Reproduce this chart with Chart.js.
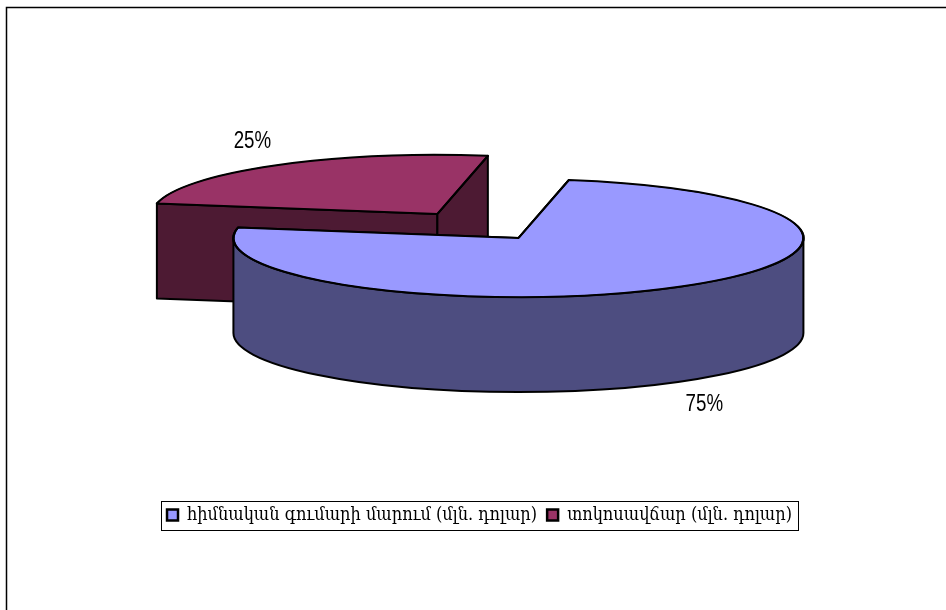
<!DOCTYPE html>
<html><head><meta charset="utf-8">
<style>html,body{margin:0;padding:0;background:#fff}canvas{display:block}</style>
<script src="https://cdn.jsdelivr.net/npm/chart.js@4"></script>
</head><body>
<canvas id="c" width="946" height="610"></canvas>
<script>
const categories = ["հիմնական գումարի մարում (մլն. դոլար)", "տոկոսավճար (մլն. դոլար)"];
const shares = [75, 25];
const topColors = ["#9999FF", "#993366"];
const wallColors = ["#4D4D80", "#4D1A33"];

const view = {cx: 477.9, cy: 226, squash: 0.207, depth: 95, explode: 71, radius: 285};
const LINE = 2;

function apex(el){
  const mid = (el.startAngle + el.endAngle) / 2;
  return {x: view.cx + Math.cos(mid) * view.explode,
          y: view.cy + Math.sin(mid) * view.explode * view.squash, mid};
}
function drawWedge(ctx, el, i){
  const a = apex(el), rx = el.outerRadius, ry = rx * view.squash, d = view.depth;
  const pt = t => ({x: a.x + Math.cos(t) * rx, y: a.y + Math.sin(t) * ry});
  ctx.lineWidth = LINE; ctx.strokeStyle = "#000"; ctx.lineJoin = "round";
  // cut faces
  ctx.fillStyle = wallColors[i];
  [el.startAngle, el.endAngle].forEach(t => {
    const p = pt(t);
    ctx.beginPath();
    ctx.moveTo(a.x, a.y); ctx.lineTo(p.x, p.y); ctx.lineTo(p.x, p.y + d); ctx.lineTo(a.x, a.y + d);
    ctx.closePath(); ctx.fill(); ctx.stroke();
  });
  // visible rim (front half of the ellipse)
  const from = Math.max(el.startAngle, 0), to = Math.min(el.endAngle, Math.PI);
  if (to > from){
    ctx.beginPath();
    ctx.ellipse(a.x, a.y, rx, ry, 0, from, to);
    ctx.ellipse(a.x, a.y + d, rx, ry, 0, to, from, true);
    ctx.closePath(); ctx.fill(); ctx.stroke();
  }
  // top face: the library's own arc, squashed
  ctx.save();
  ctx.translate(a.x, a.y); ctx.scale(1, view.squash); ctx.translate(-el.x, -el.y);
  el.draw(ctx);
  ctx.restore();
  ctx.beginPath();
  ctx.moveTo(a.x, a.y);
  ctx.ellipse(a.x, a.y, rx, ry, 0, el.startAngle, el.endAngle);
  ctx.closePath(); ctx.stroke();
}
const pie3d = {
  id: "pie3d",
  beforeDraw(chart){
    const ctx = chart.ctx;
    ctx.save();
    ctx.fillStyle = "#fff"; ctx.fillRect(0, 0, chart.width, chart.height);
    ctx.strokeStyle = "#000"; ctx.lineWidth = 1.5;
    ctx.beginPath(); ctx.moveTo(6.5, chart.height); ctx.lineTo(6.5, 7.5); ctx.lineTo(chart.width, 7.5); ctx.stroke();
    ctx.restore();
  },
  beforeDatasetsDraw(chart){
    const ctx = chart.ctx, arcs = chart.getDatasetMeta(0).data;
    ctx.save();
    arcs.map((el, i) => ({el, i}))
        .sort((p, q) => apex(p.el).y - apex(q.el).y)
        .forEach(({el, i}) => drawWedge(ctx, el, i));
    // percentage labels
    const total = shares.reduce((s, v) => s + v, 0);
    ctx.fillStyle = "#000"; ctx.font = "24px 'Liberation Sans'";
    ctx.textAlign = "center"; ctx.textBaseline = "middle";
    arcs.forEach((el, i) => {
      const a = apex(el), r = el.outerRadius * 1.137, front = Math.sin(a.mid) > 0;
      const x = a.x + Math.cos(a.mid) * r + (front ? 1 : 0);
      const y = a.y + Math.sin(a.mid) * r * view.squash + (front ? view.depth + 16 : -17);
      ctx.save();
      ctx.translate(x, y); ctx.scale(0.78, 1);
      ctx.fillText(Math.round(shares[i] / total * 100) + "%", 0, 0);
      ctx.restore();
    });
    ctx.restore();
    return false;
  },
  afterDraw(chart){
    const boxes = chart.legend.legendHitBoxes, ctx = chart.ctx;
    const left = Math.min(...boxes.map(b => b.left)) - 6;
    const right = Math.max(...boxes.map(b => b.left + b.width)) + 6;
    const top = boxes[0].top - 5, bottom = boxes[0].top + boxes[0].height + 6;
    ctx.save();
    ctx.strokeStyle = "#000"; ctx.lineWidth = 1;
    ctx.strokeRect(Math.round(left) + .5, Math.round(top) + .5, Math.round(right - left), Math.round(bottom - top));
    ctx.restore();
  }
};
new Chart(document.getElementById("c"), {
  type: "pie",
  data: {labels: categories, datasets: [{data: shares, backgroundColor: topColors, borderColor: "#000", borderWidth: 2.5}]},
  plugins: [pie3d],
  options: {
    responsive: false, animation: false, devicePixelRatio: 1,
    rotation: 10.2, radius: view.radius,
    layout: {padding: {left: 13, bottom: 76}},
    events: [],
    plugins: {
      tooltip: {enabled: false},
      legend: {
        display: true, position: "bottom",
        labels: {boxWidth: 11, boxHeight: 11, padding: 10, color: "#000",
                 font: {family: "'DejaVu Serif Condensed'", size: 18}}
      }
    }
  }
});
</script>
</body></html>
